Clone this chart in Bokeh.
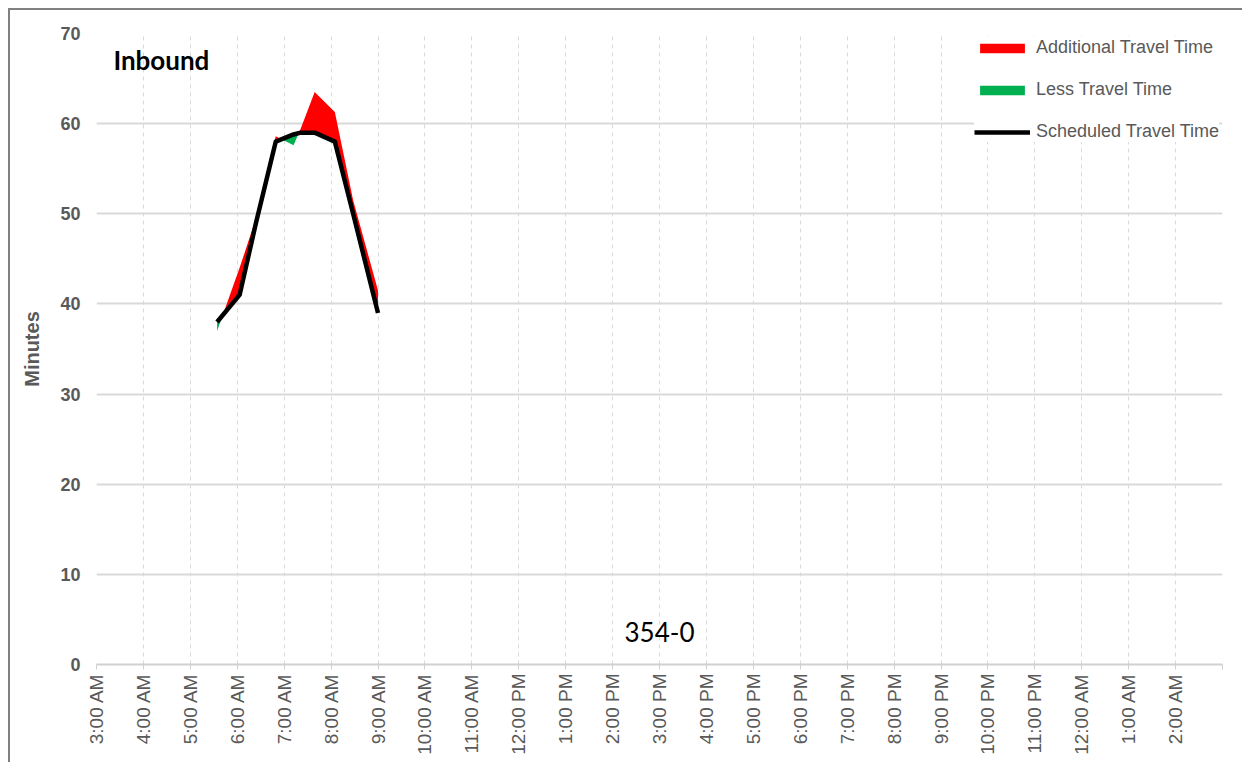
import numpy as np
from bokeh.plotting import figure
from bokeh.models import FixedTicker, Legend, LegendItem, Label, Range1d
from bokeh.embed import file_html
from bokeh.resources import INLINE

# ---- data ----
tick_hours = list(range(3, 28))
tick_labels = ["3:00 AM", "4:00 AM", "5:00 AM", "6:00 AM", "7:00 AM", "8:00 AM",
               "9:00 AM", "10:00 AM", "11:00 AM", "12:00 PM", "1:00 PM", "2:00 PM",
               "3:00 PM", "4:00 PM", "5:00 PM", "6:00 PM", "7:00 PM", "8:00 PM",
               "9:00 PM", "10:00 PM", "11:00 PM", "12:00 AM", "1:00 AM", "2:00 AM", ""]

time_h = [5.57, 6.05, 6.40, 6.82, 7.20, 7.35, 7.65, 8.08, 8.47, 9.00]
scheduled = [38, 41, 49, 58, 58.8, 59, 59, 58, 50, 39]
actual = [37, 44, 49.5, 58.6, 57.6, 59.4, 63.5, 61.3, 51.5, 41.5]

title_text = "Inbound"
route_text = "354-0"

# ---- fill regions (split at crossings) ----
t = np.array(time_h, float)
s = np.array(scheduled, float)
a = np.array(actual, float)
xs, ss, aa = [t[0]], [s[0]], [a[0]]
for i in range(1, len(t)):
    d0 = a[i - 1] - s[i - 1]
    d1 = a[i] - s[i]
    if d0 * d1 < 0:
        f = d0 / (d0 - d1)
        xc = t[i - 1] + f * (t[i] - t[i - 1])
        yc = s[i - 1] + f * (s[i] - s[i - 1])
        xs.append(xc); ss.append(yc); aa.append(yc)
    xs.append(t[i]); ss.append(s[i]); aa.append(a[i])
xs = np.array(xs); ss = np.array(ss); aa = np.array(aa)

GRAY = "#595959"
SANS = "Liberation Sans, Arial, sans-serif"

p = figure(frame_width=1126, frame_height=631,
           min_border_left=86, min_border_right=20, min_border_top=23, min_border_bottom=98,
           x_range=Range1d(3, 27), y_range=Range1d(0, 70),
           output_backend="svg", toolbar_location=None)
p.styles = {"border-left": "2px solid #808080", "border-top": "2px solid #808080",
            "margin-left": "8px", "margin-top": "8px"}
p.outline_line_color = None
p.background_fill_color = "white"
p.border_fill_color = "white"

red = p.varea(x=xs, y1=ss, y2=np.maximum(aa, ss), fill_color="#ff0000")
green = p.varea(x=xs, y1=np.minimum(aa, ss), y2=ss, fill_color="#00b050")
black = p.line(x=time_h, y=scheduled, line_color="black", line_width=4.5, line_join="round")

# axes
p.xaxis.ticker = FixedTicker(ticks=tick_hours)
p.xaxis.major_label_overrides = {h: lab for h, lab in zip(tick_hours, tick_labels)}
p.xaxis.major_label_orientation = np.pi / 2
p.xaxis.major_label_text_font = SANS
p.xaxis.major_label_text_font_size = "19px"
p.xaxis.major_label_text_color = GRAY
p.xaxis.major_label_standoff = 4
p.xaxis.axis_line_color = "#d0d0d0"
p.xaxis.axis_line_width = 2
p.xaxis.major_tick_line_color = "#d0d0d0"
p.xaxis.major_tick_in = 0
p.xaxis.major_tick_out = 5
p.xaxis.minor_tick_line_color = None

p.yaxis.ticker = FixedTicker(ticks=[0, 10, 20, 30, 40, 50, 60, 70])
p.yaxis.axis_line_color = None
p.yaxis.major_tick_line_color = None
p.yaxis.minor_tick_line_color = None
p.yaxis.major_label_text_font = SANS
p.yaxis.major_label_text_font_style = "bold"
p.yaxis.major_label_text_font_size = "18px"
p.yaxis.major_label_text_color = GRAY
p.yaxis.major_label_standoff = 10
p.yaxis.axis_label = "Minutes"
p.yaxis.axis_label_text_font = SANS
p.yaxis.axis_label_text_font_style = "bold"
p.yaxis.axis_label_text_font_size = "20px"
p.yaxis.axis_label_text_color = GRAY
p.yaxis.axis_label_standoff = 14

# grids
p.ygrid.grid_line_color = "#d9d9d9"
p.ygrid.grid_line_width = 2
p.xgrid.grid_line_color = "#d9d9d9"
p.xgrid.grid_line_width = 1
p.xgrid.grid_line_dash = "4 4"

# texts
p.add_layout(Label(x=3.36, y=67.1, text=title_text, text_font="Lato", text_font_style="bold",
                   text_font_size="26px", text_color="black", text_baseline="middle"))
p.add_layout(Label(x=15.0, y=3.6, text=route_text, text_font="Lato",
                   text_font_size="26px", text_color="black", text_baseline="middle",
                   text_align="center"))

legend = Legend(items=[LegendItem(label="Additional Travel Time", renderers=[red]),
                       LegendItem(label="Less Travel Time", renderers=[green]),
                       LegendItem(label="Scheduled Travel Time", renderers=[black])],
                location=(878, 522))
legend.glyph_width = 56
legend.glyph_height = 12
legend.label_height = 18
legend.spacing = 21
legend.padding = 5
legend.margin = 0
legend.label_standoff = 6
legend.label_text_font = SANS
legend.label_text_font_size = "18px"
legend.label_text_color = GRAY
legend.border_line_color = None
legend.background_fill_color = "white"
legend.background_fill_alpha = 1.0
p.add_layout(legend)

open("out.html", "w").write(file_html(p, INLINE))
